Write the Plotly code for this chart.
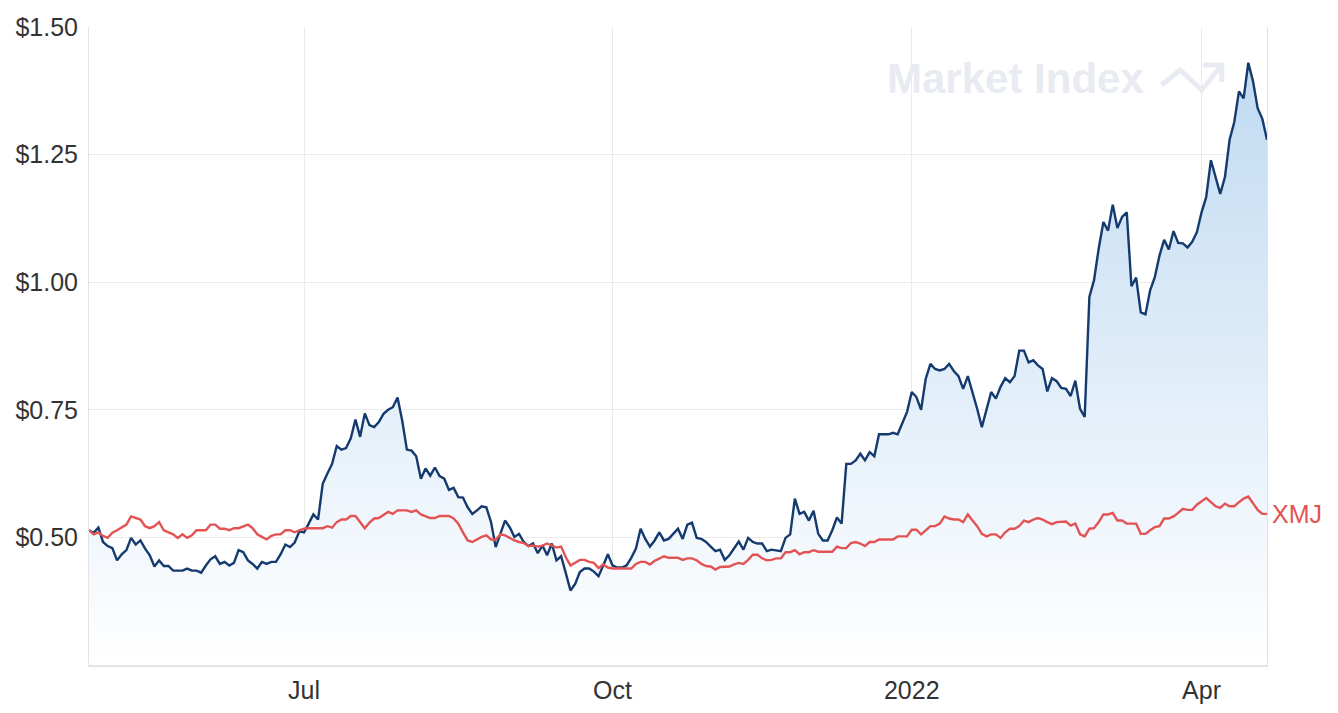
import pandas as pd
import plotly.graph_objects as go

# ---------------- data ----------------
start_date = "2021-04-27"
end_date = "2022-04-26"
asx_holidays = ["2021-06-14", "2021-12-27", "2021-12-28", "2022-01-03",
                "2022-01-26", "2022-04-15", "2022-04-18", "2022-04-25"]

price = [
    0.514, 0.509, 0.519, 0.491, 0.483, 0.479, 0.455, 0.467, 0.475, 0.499,
    0.486, 0.494, 0.478, 0.465, 0.443, 0.455, 0.444, 0.444, 0.435, 0.435,
    0.435, 0.439, 0.435, 0.435, 0.431, 0.445, 0.457, 0.463, 0.448, 0.452,
    0.445, 0.450, 0.475, 0.471, 0.455, 0.448, 0.439, 0.452, 0.448, 0.452,
    0.452, 0.467, 0.486, 0.481, 0.490, 0.512, 0.510, 0.527, 0.545, 0.535,
    0.605, 0.625, 0.644, 0.679, 0.672, 0.675, 0.694, 0.731, 0.697, 0.743,
    0.720, 0.716, 0.726, 0.742, 0.750, 0.755, 0.774, 0.729, 0.672, 0.670,
    0.659, 0.615, 0.635, 0.621, 0.637, 0.620, 0.615, 0.593, 0.597, 0.579,
    0.578, 0.559, 0.546, 0.553, 0.561, 0.559, 0.530, 0.481, 0.506, 0.533,
    0.520, 0.501, 0.507, 0.491, 0.483, 0.488, 0.469, 0.484, 0.465, 0.488,
    0.455, 0.463, 0.430, 0.396, 0.409, 0.432, 0.439, 0.439, 0.433, 0.424,
    0.445, 0.467, 0.445, 0.441, 0.441, 0.445, 0.460, 0.478, 0.517, 0.497,
    0.482, 0.494, 0.510, 0.494, 0.497, 0.508, 0.517, 0.497, 0.525, 0.529,
    0.499, 0.497, 0.491, 0.482, 0.473, 0.476, 0.456, 0.465, 0.478, 0.492,
    0.476, 0.499, 0.491, 0.488, 0.488, 0.473, 0.476, 0.475, 0.473, 0.499,
    0.506, 0.576, 0.546, 0.550, 0.533, 0.552, 0.507, 0.494, 0.494, 0.514,
    0.539, 0.527, 0.644, 0.644, 0.651, 0.664, 0.651, 0.667, 0.659, 0.702,
    0.702, 0.702, 0.705, 0.702, 0.724, 0.746, 0.785, 0.775, 0.750, 0.811,
    0.840, 0.830, 0.827, 0.830, 0.840, 0.826, 0.816, 0.791, 0.816, 0.785,
    0.752, 0.716, 0.749, 0.785, 0.772, 0.795, 0.812, 0.804, 0.816, 0.866,
    0.866, 0.843, 0.847, 0.837, 0.830, 0.786, 0.812, 0.806, 0.793, 0.791,
    0.777, 0.807, 0.752, 0.736, 0.971, 1.004, 1.066, 1.118, 1.101, 1.152,
    1.106, 1.128, 1.137, 0.992, 1.009, 0.941, 0.937, 0.984, 1.010, 1.052,
    1.083, 1.064, 1.100, 1.077, 1.076, 1.068, 1.079, 1.098, 1.137, 1.167,
    1.239, 1.206, 1.173, 1.206, 1.279, 1.314, 1.374, 1.360, 1.430, 1.394,
    1.341, 1.320, 1.279,
]

xmj = [
    0.514, 0.506, 0.510, 0.503, 0.499, 0.509, 0.514, 0.519, 0.525, 0.541,
    0.538, 0.535, 0.522, 0.518, 0.522, 0.530, 0.514, 0.510, 0.506, 0.499,
    0.506, 0.499, 0.504, 0.514, 0.514, 0.514, 0.525, 0.525, 0.517, 0.517,
    0.514, 0.518, 0.518, 0.522, 0.525, 0.518, 0.506, 0.501, 0.496, 0.503,
    0.506, 0.506, 0.514, 0.514, 0.510, 0.514, 0.517, 0.518, 0.518, 0.518,
    0.518, 0.522, 0.519, 0.530, 0.535, 0.535, 0.542, 0.542, 0.531, 0.518,
    0.529, 0.537, 0.538, 0.544, 0.550, 0.546, 0.553, 0.553, 0.553, 0.550,
    0.553, 0.545, 0.541, 0.538, 0.538, 0.542, 0.542, 0.542, 0.537, 0.527,
    0.510, 0.494, 0.491, 0.496, 0.501, 0.504, 0.496, 0.496, 0.506, 0.504,
    0.499, 0.494, 0.491, 0.489, 0.483, 0.484, 0.482, 0.484, 0.488, 0.484,
    0.480, 0.482, 0.461, 0.445, 0.450, 0.456, 0.456, 0.452, 0.450, 0.440,
    0.447, 0.441, 0.439, 0.439, 0.439, 0.439, 0.439, 0.448, 0.452, 0.452,
    0.447, 0.454, 0.458, 0.463, 0.460, 0.460, 0.460, 0.456, 0.459, 0.459,
    0.455, 0.448, 0.444, 0.443, 0.437, 0.442, 0.443, 0.443, 0.447, 0.450,
    0.448, 0.456, 0.466, 0.466, 0.459, 0.455, 0.456, 0.459, 0.459, 0.471,
    0.471, 0.475, 0.467, 0.471, 0.471, 0.475, 0.472, 0.472, 0.472, 0.472,
    0.482, 0.479, 0.479, 0.489, 0.491, 0.488, 0.483, 0.491, 0.491, 0.496,
    0.496, 0.496, 0.496, 0.502, 0.502, 0.502, 0.515, 0.515, 0.506, 0.514,
    0.522, 0.522, 0.527, 0.541, 0.537, 0.535, 0.535, 0.530, 0.545, 0.533,
    0.522, 0.507, 0.502, 0.506, 0.506, 0.499, 0.510, 0.517, 0.517, 0.522,
    0.533, 0.530, 0.535, 0.538, 0.535, 0.530, 0.526, 0.530, 0.531, 0.531,
    0.523, 0.527, 0.506, 0.502, 0.517, 0.518, 0.530, 0.545, 0.545, 0.548,
    0.533, 0.533, 0.527, 0.527, 0.527, 0.507, 0.507, 0.514, 0.520, 0.522,
    0.537, 0.537, 0.541, 0.548, 0.556, 0.554, 0.554, 0.564, 0.571, 0.577,
    0.569, 0.561, 0.558, 0.566, 0.561, 0.561, 0.569, 0.576, 0.580, 0.567,
    0.554, 0.546, 0.546,
]

tick_dates = ["2021-07-01", "2021-10-01", "2022-01-04", "2022-04-01"]
tick_labels = ["Jul", "Oct", "2022", "Apr"]
y_ticks = [0.50, 0.75, 1.00, 1.25, 1.50]
y_tick_labels = ["$0.50", "$0.75", "$1.00", "$1.25", "$1.50"]
series_label = "XMJ"

# trading days (ASX calendar)
dates = pd.bdate_range(start_date, end_date, freq="C", holidays=asx_holidays)
dates = [d.strftime("%Y-%m-%d") for d in dates]
n = min(len(dates), len(price), len(xmj))
dates, price, xmj = dates[:n], price[:n], xmj[:n]

BLUE = "#143a6e"
RED = "#e25454"
GRID = "#ebebeb"
TXT = "#333333"
FONT = "Liberation Sans, Arial, sans-serif"

fig = go.Figure()

fig.add_trace(go.Scatter(
    x=dates, y=price, mode="lines",
    line=dict(color=BLUE, width=2.4),
    fill="tozeroy",
    fillgradient=dict(type="vertical", start=0.25, stop=1.43,
                      colorscale=[[0, "rgb(255,255,255)"], [1, "rgb(192,218,242)"]]),
    showlegend=False, hoverinfo="skip",
))

fig.add_trace(go.Scatter(
    x=dates, y=xmj, mode="lines",
    line=dict(color=RED, width=2.4),
    showlegend=False, hoverinfo="skip",
))

# label at end of XMJ line
fig.add_annotation(
    x=dates[-1], y=xmj[-1], text=series_label, showarrow=False,
    xanchor="left", yanchor="middle", xshift=3,
    font=dict(family=FONT, size=25, color=RED),
)

# watermark
fig.add_annotation(
    xref="paper", yref="paper", x=0.6757, y=0.920,
    text="<b>Market Index</b>", showarrow=False,
    xanchor="left", yanchor="middle",
    font=dict(family=FONT, size=42, color="#e8ebf2"),
)
fig.add_shape(
    type="path", xref="paper", yref="paper", layer="below",
    path="M 0.9106 0.9091 L 0.9262 0.9326 L 0.9446 0.9013 L 0.9616 0.9404 "
         "M 0.9457 0.9404 L 0.9616 0.9404 L 0.9616 0.9138",
    line=dict(color="#e8ebf2", width=5),
)

fig.update_xaxes(
    type="date",
    range=[dates[0], dates[-1]],
    rangebreaks=[dict(bounds=["sat", "mon"]), dict(values=asx_holidays)],
    tickmode="array", tickvals=tick_dates, ticktext=tick_labels,
    showgrid=True, gridcolor=GRID, gridwidth=1,
    showline=True, linecolor="#e3e3e3", linewidth=2,
    ticks="", zeroline=False, automargin=False,
    tickfont=dict(family=FONT, size=25, color=TXT),
    ticklabelstandoff=2,
)
fig.update_yaxes(
    range=[0.25, 1.50],
    tickmode="array", tickvals=y_ticks, ticktext=y_tick_labels,
    showgrid=True, gridcolor=GRID, gridwidth=1,
    showline=True, linecolor="#e3e3e3", linewidth=1, mirror=True,
    ticks="", zeroline=False, automargin=False,
    tickfont=dict(family=FONT, size=25, color=TXT),
    ticklabelstandoff=5,
)

fig.update_layout(
    width=1338, height=713,
    margin=dict(l=89, r=71, t=27, b=48),
    paper_bgcolor="white", plot_bgcolor="white",
    showlegend=False,
)

fig.write_html("out.html")
